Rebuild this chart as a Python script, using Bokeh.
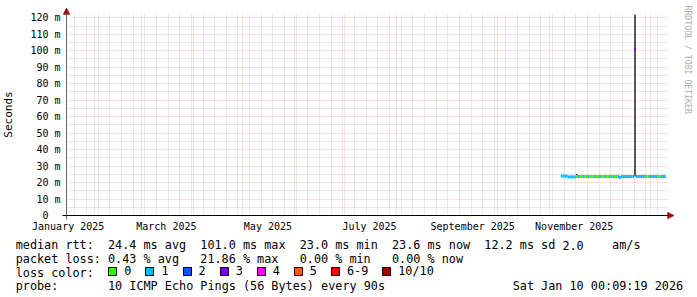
import math
from datetime import datetime
import pandas as pd
from bokeh.plotting import figure
from bokeh.models import (ColumnDataSource, Range1d, FixedTicker, Label, Legend,
                          LegendItem, Arrow, NormalHead)
from bokeh.embed import file_html
from bokeh.resources import INLINE

# ---------------- data ----------------
first_day = "2025-11-08"
last_day = "2026-01-09"
median_ms = [
    23.9, 23.9, 23.8, 23.9,                      # Nov 8-11
    23.4, 23.4, 23.5, 23.4, 23.4,                # Nov 12-16
    23.7, 23.6, 23.7, 23.7, 23.6, 23.7, 23.7,    # Nov 17-23
    23.6, 23.7, 23.7, 23.6, 23.7, 23.7, 23.6,    # Nov 24-30
    23.7, 23.6, 23.7, 23.7, 23.6, 23.7, 23.7,    # Dec 1-7
    23.6, 23.7, 23.7, 23.6, 23.7,                # Dec 8-12
    23.0,                                        # Dec 13
    23.7, 23.7, 23.6, 23.7, 23.7, 23.6, 23.7, 23.7,  # Dec 14-21
    101.0,                                       # Dec 22
    23.7, 23.6, 23.7, 23.7, 23.6, 23.7, 23.7, 23.6, 23.7,  # Dec 23-31
    23.7, 23.7, 23.6, 23.7, 23.7, 23.6, 23.7, 23.7, 23.6,  # Jan 1-9
]
loss_level = [
    1, 1, 1, 1, 1, 1, 1, 1, 1,                   # Nov 8-16
    0, 1, 0, 0, 1, 0, 0, 1, 0, 0, 0, 1, 0, 0,    # Nov 17-30
    1, 0, 0, 1, 0, 0, 1, 0, 1, 0, 0, 1,          # Dec 1-12
    1, 1, 1, 1, 1, 1, 1, 1, 1,                   # Dec 13-21
    3,                                           # Dec 22
    1, 1, 1, 1, 1, 1, 0, 0, 1,                   # Dec 23-31
    1, 1, 1, 1, 0, 0, 1, 1, 1,                   # Jan 1-9
]
loss_labels = ["0", "1", "2", "3", "4", "5", "6-9", "10/10"]
loss_colors = ["#26ff00", "#00b8ff", "#0059ff", "#7e00ff",
               "#ff00ff", "#ff5500", "#ff0000", "#a10000"]

smoke_days = ["2025-11-17", "2025-12-22"]
smoke_lo = [23.8, 23.7]
smoke_hi = [25.2, 121.8]

y_ticks = [0, 10, 20, 30, 40, 50, 60, 70, 80, 90, 100, 110, 120]
y_minor = [5, 15, 25, 35, 45, 55, 65, 75, 85, 95, 105, 115]
y_tick_labels = ["0\u00a0\u00a0", "10 m", "20 m", "30 m", "40 m", "50 m", "60 m",
                 "70 m", "80 m", "90 m", "100 m", "110 m", "120 m"]

x_label_dates = ["2025-01-16", "2025-03-16", "2025-05-16",
                 "2025-07-16", "2025-09-16", "2025-11-16"]
x_label_text = ["January 2025", "March 2025", "May 2025",
                "July 2025", "September 2025", "November 2025"]

legend_rows = [
    [(0, "median rtt:"), (13, "24.4 ms avg"), (26, "101.0 ms max"), (40, "23.0 ms min"),
     (53, "23.6 ms now"), (66, "12.2 ms sd"), (77, "2.0"), (84, "am/s")],
    [(0, "packet loss:"), (13, "0.43 % avg"), (26, "21.86 % max"), (40, "0.00 % min"),
     (53, "0.00 % now")],
    [(0, "loss color:")],
    [(0, "probe:"), (13, "10 ICMP Echo Pings (56 Bytes) every 90s"),
     (70, "Sat Jan 10 00:09:19 2026")],
]
watermark = "RRDTOOL / TOBI OETIKER"

# ---------------- geometry ----------------
EPOCH = datetime(1970, 1, 1)


def ms(d):
    return (pd.Timestamp(d).to_pydatetime() - EPOCH).total_seconds() * 1000.0


DAY = 86400000.0
W, H = 697, 297
MONO = "DejaVu Sans Mono"
OX, OY = 66, 215               # canvas px of the graph origin
PX_DAY = 1.6647                # px per day
PX_MS = 1.6476                 # px per millisecond of rtt

t_origin = ms("2025-01-15")            # left edge of the graph area
t_grid_end = ms("2026-01-11 15:00")    # right edge of the graph area
v_grid_end = 122.6                     # top edge of the graph area (ms)
t_view0 = t_origin - OX / PX_DAY * DAY
t_view1 = t_origin + (W - OX) / PX_DAY * DAY
v_view0 = -(H - OY) / PX_MS
v_view1 = OY / PX_MS
t_arrow = t_grid_end + 5.3 / PX_DAY * DAY
v_arrow = v_grid_end + 3.2
t_axis0 = t_origin - 4 / PX_DAY * DAY
v_axis0 = -4 / PX_MS

days = pd.date_range(first_day, last_day, freq="D")
x0 = [ms(d) for d in days]
x1 = [v + DAY for v in x0]
src = ColumnDataSource(dict(x0=x0, x1=x1, y=median_ms,
                            color=[loss_colors[k] for k in loss_level]))
sm_left = [ms(d) for d in smoke_days]
smoke_src = ColumnDataSource(dict(left=sm_left, right=[v + DAY for v in sm_left],
                                  bottom=smoke_lo, top=smoke_hi))

p = figure(width=W, height=H, output_backend="svg", toolbar_location=None,
           x_axis_type="datetime",
           x_range=Range1d(t_view0, t_view1), y_range=Range1d(v_view0, v_view1),
           min_border=0, min_border_left=0, min_border_right=0,
           min_border_top=0, min_border_bottom=0)
p.outline_line_color = None
p.background_fill_color = "white"
p.border_fill_color = "white"

# grids
month_starts = pd.date_range("2025-02-01", "2026-01-01", freq="MS")
mondays = [d for d in pd.date_range("2025-01-20", "2026-01-11", freq="W-MON")
           if d.day != 1]
p.xgrid.ticker = FixedTicker(ticks=[ms(d) for d in month_starts],
                             minor_ticks=[ms(d) for d in mondays])
for g in (p.xgrid, p.ygrid):
    g.grid_line_color = "#ff8080"
    g.grid_line_alpha = 0.5
    g.grid_line_dash = "1 1"
    g.minor_grid_line_color = "#b0b0b0"
    g.minor_grid_line_alpha = 0.55
    g.minor_grid_line_dash = "1 1"
p.xgrid.cross_bounds = (0, v_grid_end)
p.ygrid.cross_bounds = (t_origin, t_grid_end)

# y axis (fixed at the graph origin)
ya = p.yaxis[0]
ya.fixed_location = t_origin
ya.bounds = (0, v_grid_end)
ya.ticker = FixedTicker(ticks=y_ticks, minor_ticks=y_minor)
ya.major_label_overrides = {t: s for t, s in zip(y_ticks, y_tick_labels)}
ya.axis_label = "Seconds"
ya.axis_label_text_font = MONO
ya.axis_label_text_font_size = "11px"
ya.axis_label_text_font_style = "normal"
ya.axis_label_text_color = "black"
ya.axis_label_standoff = 12
ya.major_label_standoff = 6

# x axis (fixed at 0 s)
xa = p.xaxis[0]
xa.fixed_location = 0
xa.bounds = (t_origin, t_grid_end)
lab_ms = [ms(d) for d in x_label_dates]
xa.ticker = FixedTicker(ticks=lab_ms, minor_ticks=[])
xa.major_label_overrides = {t: s for t, s in zip(lab_ms, x_label_text)}
xa.major_label_standoff = 5

for ax in (xa, ya):
    ax.axis_line_color = None
    ax.major_tick_line_color = None
    ax.minor_tick_line_color = None
    ax.major_tick_out = 0
    ax.major_tick_in = 0
    ax.minor_tick_out = 0
    ax.minor_tick_in = 0
    ax.major_label_text_font = MONO
    ax.major_label_text_font_size = "10px"
    ax.major_label_text_color = "black"

# smoke + median
p.quad(left="left", right="right", bottom="bottom", top="top", source=smoke_src,
       fill_color="#3a3a3a", line_color=None)
p.segment(x0="x0", y0="y", x1="x1", y1="y", source=src, line_color="color",
          line_width=3)

# axis lines with arrows
head_y = NormalHead(size=6, fill_color="#9b1111", line_color="#9b1111")
head_x = NormalHead(size=6, fill_color="#9b1111", line_color="#9b1111")
p.add_layout(Arrow(end=head_y, x_start=t_origin, y_start=v_axis0, x_end=t_origin,
                   y_end=v_arrow, line_color="#666666", line_width=1))
p.add_layout(Arrow(end=head_x, x_start=t_axis0, y_start=0,
                   x_end=t_arrow, y_end=0, line_color="black", line_width=1))

# watermark
p.add_layout(Label(x=687, y=H - 5, x_units="screen", y_units="screen",
                   text=watermark, angle=-math.pi / 2, text_font=MONO,
                   text_font_size="8.2px", text_color="#b0b0b0",
                   text_align="left", text_baseline="middle"))

# legend text rows
CW = 7.1
TX0 = 15.2
baselines = [244.7, 258.4, 272.1, 285.8]
for row, base in zip(legend_rows, baselines):
    for col, txt in row:
        p.add_layout(Label(x=TX0 + col * CW, y=H - base, x_units="screen",
                           y_units="screen", text=txt, text_font=MONO,
                           text_font_size="11.8px", text_color="black",
                           text_baseline="alphabetic", text_align="left"))

# loss colour swatches (each legend renderer holds one off-canvas dummy row so
# that the legend draws its swatch)
t_off = t_view0 - 30 * DAY
sw = []
for lab, col in zip(loss_labels, loss_colors):
    r = p.quad(left=[t_off], right=[t_off], top=[v_view0], bottom=[v_view0],
               fill_color=col, line_color="black")
    sw.append(LegendItem(label=lab, renderers=[r]))
leg = Legend(items=sw, orientation="horizontal", location=(107.3, H - 277.7),
             glyph_width=10, glyph_height=10, label_standoff=7, spacing=13,
             label_width=0, label_height=10, padding=0, margin=0,
             label_text_font=MONO, label_text_font_size="11.8px",
             label_text_color="black", border_line_color=None,
             background_fill_alpha=0)
p.add_layout(leg)

open("out.html", "w").write(file_html(p, INLINE))
